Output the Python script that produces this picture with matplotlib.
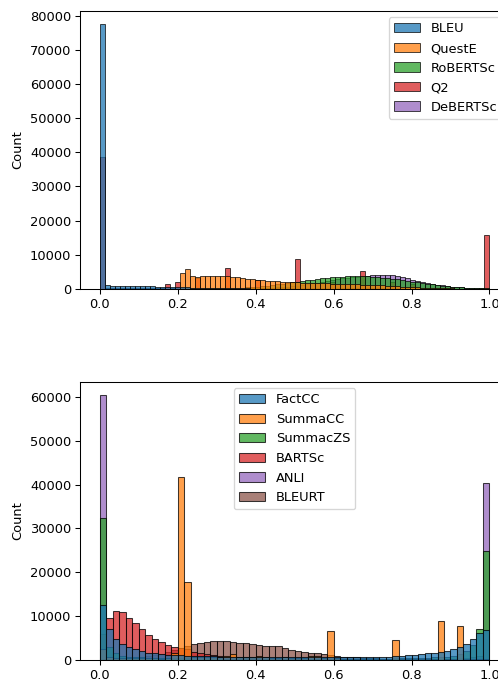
import matplotlib
matplotlib.use('Agg')
import matplotlib.pyplot as plt
import numpy as np

# top panel: 78 bins on [0, 1]
top_names = ['BLEU', 'QuestE', 'RoBERTSc', 'Q2', 'DeBERTSc']
bleu = [77650, 980, 880, 780, 750, 720, 700, 700, 680, 680,
        660, 650, 640, 620, 600, 560, 450, 380, 320, 280,
        240, 210, 180, 160, 140, 120, 100, 90, 80, 70,
        60, 50, 40, 35, 30, 25, 20, 15, 10, 10,
        0, 0, 0, 0, 0, 0, 0, 0, 0, 0,
        0, 0, 0, 0, 0, 0, 0, 0, 0, 0,
        0, 0, 0, 0, 0, 0, 0, 0, 0, 0,
        0, 0, 0, 0, 0, 0, 0, 0]
queste = [0, 0, 0, 0, 0, 0, 0, 0, 0, 0,
          0, 0, 0, 0, 0, 0, 4500, 5770, 3650, 3450,
          3600, 3700, 3800, 3850, 3850, 3700, 3420, 3330, 3130, 2930,
          2830, 2640, 2540, 2350, 2250, 2150, 2050, 2000, 1960, 1860,
          1800, 1750, 1700, 1650, 1600, 1550, 1500, 1450, 1400, 1350,
          1300, 1250, 1200, 1100, 1050, 1000, 950, 880, 800, 720,
          650, 580, 500, 430, 360, 300, 240, 190, 150, 110,
          80, 50, 30, 20, 10, 5, 0, 0]
robertsc = [0, 0, 0, 0, 0, 0, 0, 0, 0, 0,
            0, 0, 0, 0, 0, 0, 10, 20, 30, 40,
            50, 60, 70, 80, 90, 100, 150, 200, 280, 370,
            480, 600, 740, 900, 1070, 1250, 1450, 1650, 1850, 2050,
            2250, 2540, 2640, 2830, 3030, 3230, 3320, 3420, 3520, 3620,
            3710, 3760, 3710, 3810, 3520, 3320, 3230, 3130, 2930, 2740,
            2540, 2250, 2050, 1860, 1660, 1470, 1270, 1080, 880, 680,
            590, 490, 390, 290, 200, 200, 100, 100]
q2 = [38720, 300, 300, 300, 300, 300, 300, 300, 300, 300,
      300, 300, 300, 1370, 300, 2050, 300, 300, 300, 3000,
      300, 300, 300, 300, 300, 5960, 300, 300, 300, 300,
      300, 2500, 300, 300, 300, 300, 300, 300, 300, 8600,
      300, 300, 300, 300, 300, 300, 2000, 300, 300, 300,
      300, 300, 5180, 300, 300, 300, 300, 300, 2000, 300,
      300, 300, 1500, 300, 300, 300, 300, 300, 300, 300,
      50, 50, 50, 50, 50, 50, 50, 15840]
debertsc = [0, 0, 0, 0, 0, 0, 0, 0, 0, 0,
            0, 0, 0, 0, 0, 0, 0, 0, 0, 0,
            0, 0, 0, 0, 0, 10, 20, 40, 60, 100,
            120, 150, 200, 260, 330, 420, 520, 640, 780, 940,
            1120, 1320, 1540, 1780, 2030, 2290, 2550, 2800, 3030, 3240,
            3420, 3580, 3720, 3830, 3910, 4000, 4050, 4100, 4050, 3810,
            3320, 3030, 2640, 2350, 2050, 1760, 1470, 1170, 980, 780,
            590, 490, 390, 290, 200, 200, 100, 100]

# bottom panel: 60 bins on [0, 1]
bottom_names = ['FactCC', 'SummaCC', 'SummacZS', 'BARTSc', 'ANLI', 'BLEURT']
factcc = [12480, 7150, 4720, 3650, 2890, 2440, 1980, 1670, 1520, 1370,
          1250, 1150, 1050, 1000, 950, 900, 860, 830, 800, 780,
          760, 740, 720, 700, 690, 680, 670, 660, 650, 640,
          630, 620, 610, 600, 600, 600, 600, 610, 620, 610,
          610, 620, 700, 760, 760, 850, 910, 1060, 1220, 1370,
          1520, 1670, 1900, 2130, 2590, 3040, 3650, 4710, 6160, 6770]
summacc = [2500, 600, 500, 450, 400, 400, 380, 360, 350, 340,
           400, 1500, 41680, 17730, 800, 600, 700, 600, 700, 900,
           1290, 700, 600, 700, 990, 600, 500, 500, 760, 500,
           450, 450, 910, 910, 400, 6540, 350, 300, 300, 300,
           300, 300, 300, 300, 300, 4640, 300, 300, 300, 300,
           300, 300, 8970, 300, 300, 7830, 300, 300, 300, 300]
summaczs = [32330, 3000, 1500, 1000, 800, 700, 600, 550, 500, 480,
            460, 440, 420, 400, 390, 380, 370, 360, 350, 340,
            330, 320, 310, 300, 300, 300, 300, 300, 300, 300,
            300, 300, 300, 300, 300, 300, 300, 300, 300, 300,
            300, 300, 300, 320, 340, 360, 380, 400, 450, 500,
            550, 600, 700, 800, 1000, 1300, 2000, 3500, 7070, 24800]
bartsc = [6000, 9580, 11250, 10950, 9580, 8370, 7150, 5780, 4870, 4110,
          3500, 3040, 2700, 2400, 1900, 1520, 1290, 1060, 910, 760,
          650, 560, 480, 420, 370, 320, 280, 250, 220, 190,
          160, 140, 120, 100, 90, 80, 70, 60, 50, 45,
          40, 35, 30, 28, 25, 22, 20, 18, 16, 14,
          12, 10, 9, 8, 7, 6, 5, 4, 3, 2]
anli = [60460, 500, 400, 350, 300, 300, 300, 300, 300, 300,
        300, 300, 300, 300, 300, 300, 300, 300, 300, 300,
        300, 300, 300, 300, 300, 300, 300, 300, 300, 300,
        300, 300, 300, 300, 300, 300, 300, 300, 300, 300,
        300, 300, 300, 300, 300, 300, 300, 300, 300, 300,
        300, 300, 300, 300, 300, 400, 500, 700, 1000, 40310]
bleurt = [100, 150, 200, 300, 400, 550, 700, 900, 1150, 1450,
          1800, 2200, 2700, 3200, 3650, 3950, 4100, 4260, 4260, 4260,
          4030, 3880, 3800, 3650, 3350, 3270, 3190, 3120, 2660, 2360,
          2130, 1900, 1670, 1520, 1290, 1060, 990, 760, 680, 600,
          520, 450, 380, 320, 260, 210, 170, 130, 100, 80,
          60, 45, 35, 25, 20, 15, 10, 8, 5, 3]

top_counts = [bleu, queste, robertsc, q2, debertsc]
bottom_counts = [factcc, summacc, summaczs, bartsc, anli, bleurt]
colors = plt.rcParams['axes.prop_cycle'].by_key()['color']


def layered_hist(ax, names, counts, lw):
    n = len(counts[0])
    edges = np.linspace(0, 1, n + 1)
    handles = [None] * len(names)
    # first series ends up on top, like seaborn's layered hue
    for i in reversed(range(len(names))):
        bars = ax.bar(edges[:-1], counts[i], width=1 / n, align='edge',
                      color=colors[i], alpha=0.75, edgecolor='black',
                      linewidth=lw, label=names[i])
        handles[i] = bars
    ax.set_ylabel('Count')
    return handles


dpi = 94
fig = plt.figure(figsize=(498 / dpi, 680 / dpi), dpi=dpi)
ax1 = fig.add_axes([0.1612, 0.5754, 0.8608, 0.4088])
ax2 = fig.add_axes([0.1612, 0.0294, 0.8608, 0.4093])

h1 = layered_hist(ax1, top_names, top_counts, 0.7)
ax1.legend(h1, top_names, loc='upper right')

h2 = layered_hist(ax2, bottom_names, bottom_counts, 0.8)
ax2.legend(h2, bottom_names, loc='upper center')

for ax in (ax1, ax2):
    ax.set_xticks([0.0, 0.2, 0.4, 0.6, 0.8, 1.0])

fig.savefig('out.png', dpi=dpi, facecolor='white')
